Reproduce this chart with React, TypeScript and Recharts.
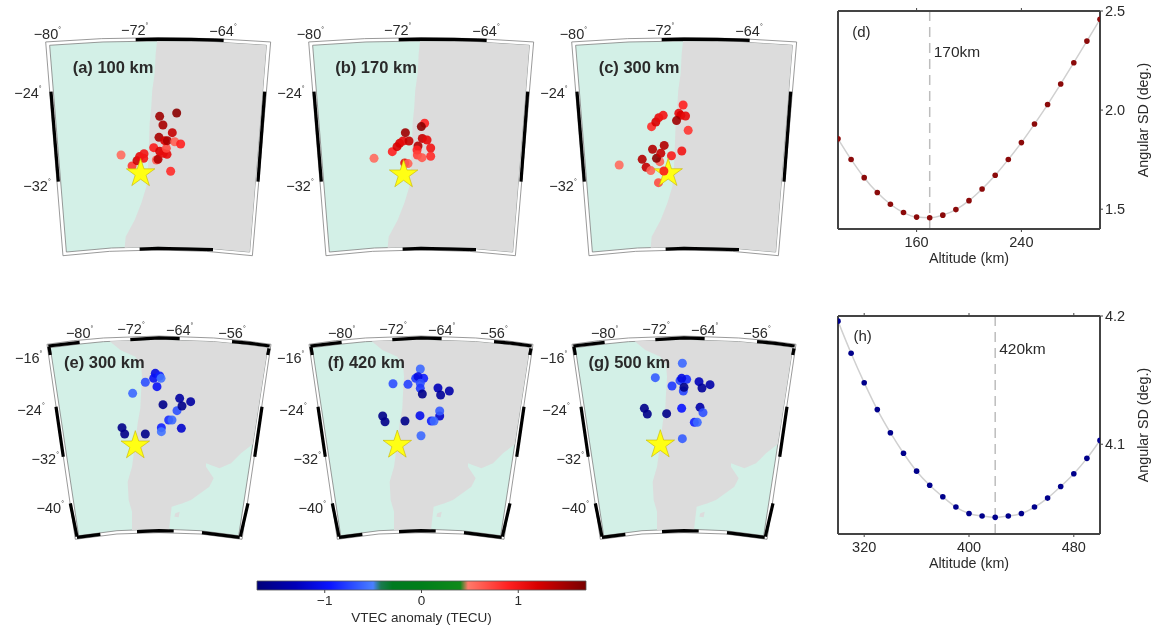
import {
  ComposedChart,
  Line,
  ReferenceDot,
  ReferenceLine,
  Scatter,
  ScatterChart,
  XAxis,
  YAxis,
} from "recharts";

const FONT = "'Liberation Sans', Arial, sans-serif";
const INK = "#2a2a2a";

type Pt = [number, number];
type Dot = [number, number, number];

// --- colour scale (VTEC anomaly, TECU)
const scaleValues = [-1.7, -1.3, -0.95, -0.5, -0.42, -0.3, 0, 0.4, 0.48, 0.9, 1.2, 1.7];
const scaleColors = [
  "#00007a", "#0000b8", "#0a14ff", "#4a80ff", "#1a7a50", "#007a20",
  "#007f1a", "#0f8a1a", "#ff7a6a", "#ff2020", "#d80000", "#780000",
];

function vtecColor(v: number) {
  const hex = (c: string) => [1, 3, 5].map((i) => parseInt(c.slice(i, i + 2), 16));
  for (let i = 1; i < scaleValues.length; i++) {
    if (v <= scaleValues[i]) {
      const t = (v - scaleValues[i - 1]) / (scaleValues[i] - scaleValues[i - 1]);
      const a = hex(scaleColors[i - 1]);
      const b = hex(scaleColors[i]);
      return `rgb(${a.map((n, k) => Math.round(n + (b[k] - n) * t)).join(",")})`;
    }
  }
  return scaleColors[scaleColors.length - 1];
}

// --- station pierce points: lon, lat, anomaly
const dotsA: Dot[] = [
  [-73.36, -29.67, 0.55], [-72.36, -30.63, 0.8], [-71.91, -30.16, 1.25], [-71.67, -29.81, 1.1],
  [-71.3, -29.96, 1.0], [-71.27, -29.55, 1.0], [-70.39, -29.03, 0.95], [-70.15, -30.1, 0.6],
  [-70.0, -30.05, 1.4], [-69.85, -29.35, 1.2], [-69.52, -29.52, 1.1], [-69.18, -29.61, 1.1],
  [-69.24, -29.09, 0.7], [-69.91, -28.13, 1.45], [-69.39, -28.42, 1.2], [-69.15, -28.42, 1.45],
  [-68.7, -27.72, 1.3], [-69.55, -27.05, 1.45], [-69.85, -26.3, 1.5], [-68.3, -26.01, 1.6],
  [-68.48, -28.51, 0.6], [-67.94, -28.71, 0.9], [-68.85, -31.09, 0.85],
];
const dotsB: Dot[] = [
  [-74.27, -29.96, 0.55], [-72.61, -29.38, 0.9], [-72.18, -28.94, 1.2], [-71.94, -28.65, 1.2],
  [-71.42, -27.72, 1.5], [-71.64, -28.45, 1.1], [-71.09, -28.45, 1.3], [-70.27, -28.88, 1.4],
  [-69.67, -26.9, 0.9], [-69.97, -27.19, 1.6], [-69.88, -28.22, 1.3], [-69.45, -28.36, 1.1],
  [-69.12, -29.06, 1.0], [-70.36, -29.23, 0.9], [-70.33, -29.67, 0.75], [-69.91, -29.9, 0.65],
  [-69.12, -29.78, 0.85], [-71.48, -30.37, 1.1], [-71.18, -30.42, 0.6],
];
const dotsC: Dot[] = [
  [-75.89, -30.54, 0.55], [-73.8, -30.05, 1.4], [-73.44, -30.74, 1.3], [-73.02, -31.03, 0.6],
  [-72.86, -29.17, 1.4], [-72.2, -30.25, 0.6], [-72.5, -29.96, 1.6], [-72.11, -29.52, 1.3],
  [-71.8, -28.83, 1.4], [-71.14, -29.73, 0.95], [-70.2, -29.32, 1.0], [-72.32, -32.08, 0.7],
  [-72.95, -27.2, 0.85], [-72.56, -26.79, 1.2], [-72.29, -26.41, 1.1], [-71.89, -26.21, 1.0],
  [-70.47, -26.03, 1.1], [-70.29, -26.21, 1.2], [-70.68, -26.67, 1.5], [-69.86, -26.27, 1.1],
  [-70.08, -25.31, 0.9], [-69.62, -27.52, 0.8],
];
const dotsCOverStar: Dot[] = [[-71.83, -31.06, 0.95]];
const dotsE: Dot[] = [
  [-71.56, -21.63, -0.6], [-69.56, -19.89, -0.7], [-67.98, -18.47, -1.1], [-68.24, -19.26, -1.0],
  [-67.29, -18.89, -0.9], [-67.08, -19.26, -0.55], [-67.72, -20.58, -1.0], [-66.77, -23.42, -1.6],
  [-64.14, -22.42, -1.45], [-62.4, -22.95, -1.45], [-64.56, -24.37, -0.7], [-63.77, -23.63, -1.6],
  [-65.87, -25.84, -0.85], [-65.35, -25.84, -0.6], [-67.03, -27.05, -0.9], [-67.03, -27.68, -0.55],
  [-63.87, -27.16, -1.2], [-73.24, -27.05, -1.6], [-72.82, -28.05, -1.6], [-69.56, -28.05, -1.6],
];
const dotsF: Dot[] = [
  [-71.82, -20.11, -0.7], [-69.45, -20.21, -0.75], [-67.51, -17.79, -0.6], [-68.24, -19.26, -0.8],
  [-66.98, -19.26, -0.9], [-67.87, -19.0, -1.1], [-67.51, -20.05, -0.7], [-67.51, -20.84, -0.8],
  [-67.19, -21.74, -1.6], [-64.72, -20.79, -1.3], [-64.3, -21.89, -1.5], [-62.93, -21.26, -1.4],
  [-64.45, -25.21, -1.2], [-64.45, -24.42, -0.65], [-65.77, -26.0, -0.9], [-65.35, -26.0, -0.6],
  [-67.56, -25.16, -1.05], [-73.45, -25.21, -1.6], [-73.08, -26.11, -1.6], [-69.93, -26.0, -1.6],
  [-67.4, -28.32, -0.6],
];
const dotsG: Dot[] = [
  [-67.66, -16.89, -0.6], [-71.93, -19.16, -0.65], [-69.29, -20.47, -0.8], [-68.03, -19.63, -0.75],
  [-66.98, -19.42, -0.85], [-67.77, -19.26, -1.1], [-67.51, -21.26, -0.75], [-67.4, -20.68, -1.6],
  [-65.03, -19.79, -1.3], [-64.56, -20.79, -1.5], [-63.29, -20.26, -1.4], [-64.87, -23.84, -1.4],
  [-64.4, -24.68, -0.7], [-65.77, -26.21, -0.9], [-65.3, -26.21, -0.6], [-67.77, -24.0, -0.95],
  [-73.66, -24.0, -1.6], [-73.19, -24.89, -1.6], [-70.14, -24.84, -1.6], [-67.66, -28.79, -0.65],
];

// --- map outlines on the plane of each row, in degrees
const topOuter: Pt[] = [
  [-80.21, -19.81], [-75.12, -19.52], [-70, -19.44], [-64.88, -19.52], [-59.76, -19.81],
  [-61.42, -38.45], [-65.61, -38.07], [-70, -37.95], [-74.39, -38.07], [-78.64, -38.45], [-80.21, -19.81],
];
const topInner: Pt[] = [
  [-79.85, -20.1], [-75, -19.81], [-70, -19.73], [-65, -19.81], [-60.15, -20.1],
  [-61.67, -38.13], [-65.76, -37.78], [-70, -37.66], [-74.24, -37.78], [-78.33, -38.13], [-79.85, -20.1],
];
const topLand: Pt[] = [
  [-70.09, -19.74], [-70.21, -20.8], [-70.3, -22.55], [-70.52, -24], [-70.61, -25.45], [-70.76, -26.91],
  [-70.82, -28.65], [-70.91, -30.69], [-71.06, -32.43], [-71.52, -33.88], [-72.12, -35.34], [-72.94, -36.79],
  [-73.03, -37.75], [-70, -37.66], [-65.76, -37.78], [-61.67, -38.13], [-60.15, -20.1], [-65, -19.81],
];
const topTicksBlack: Pt[][] = [
  [[-72.03, -19.61], [-70, -19.56], [-67, -19.58], [-64.03, -19.68]],
  [[-71.67, -37.87], [-70, -37.81], [-65, -37.92]],
  [[-79.73, -24.15], [-79.06, -31.99]],
  [[-60.3, -24.15], [-60.91, -31.99]],
];
const topLabels = [
  { x: -80.06, y: -19.12, text: "−80" },
  { x: -72.12, y: -18.77, text: "−72" },
  { x: -64.09, y: -18.83, text: "−64" },
  { x: -81.82, y: -24.29, text: "−24" },
  { x: -81.0, y: -32.37, text: "−32" },
];
const bottomOuter: Pt[] = [
  [-85.08, -13.89], [-80.87, -13.32], [-76.14, -12.89], [-67.4, -12.58], [-58.77, -12.89], [-54.03, -13.32],
  [-49.72, -13.89], [-54.29, -44.68], [-60.87, -43.84], [-67.4, -43.63], [-74.03, -43.84], [-80.61, -44.68],
  [-85.08, -13.89],
];
const bottomInner: Pt[] = [
  [-84.56, -14.42], [-80.35, -13.89], [-76.14, -13.47], [-67.4, -13.16], [-58.77, -13.47], [-54.56, -13.89],
  [-50.24, -14.42], [-54.82, -44.11], [-60.87, -43.32], [-67.4, -43.05], [-74.03, -43.32], [-80.08, -44.11],
  [-84.56, -14.42],
];
const bottomLand: Pt[] = [
  [-75.19, -13.42], [-73.51, -14.79], [-71.14, -15.84], [-70.24, -17.16], [-70.08, -19], [-70.24, -21.63],
  [-70.35, -24], [-70.77, -26.37], [-71.14, -29.26], [-71.66, -33.21], [-72.35, -35.58], [-72.19, -38.47],
  [-71.66, -40.32], [-71.66, -43.2], [-67.4, -43.05], [-65.77, -43.21], [-65.77, -42.68], [-65.4, -39.53],
  [-63.66, -39], [-62.35, -38.47], [-59.45, -36.37], [-58.77, -35.05], [-59.98, -33.21], [-59.98, -32.68],
  [-57.87, -33.47], [-56.03, -32.68], [-54.45, -31.11], [-52.61, -29.68], [-50.24, -14.42], [-54.56, -13.89],
  [-58.77, -13.47], [-67.4, -13.16],
];
const bottomIsland: Pt[] = [[-64.82, -40.58], [-64.14, -40.32], [-64.3, -41.21], [-64.98, -41.11]];
const bottomTicksBlack: Pt[][] = [
  [[-84.87, -14.16], [-79.93, -13.58]],
  [[-71.93, -13.16], [-67.4, -12.89], [-64.14, -13.0]],
  [[-55.87, -13.47], [-52.98, -13.74], [-49.93, -14.16]],
  [[-84.77, -14.26], [-84.56, -15.58]],
  [[-83.66, -23.74], [-82.51, -31.63]],
  [[-81.4, -39], [-80.35, -44.26]],
  [[-50.03, -14.53], [-50.24, -15.58]],
  [[-51.14, -23.74], [-52.29, -31.63]],
  [[-53.35, -39], [-54.56, -44.26]],
  [[-80.35, -44.37], [-76.66, -43.89]],
  [[-70.87, -43.47], [-67.4, -43.32], [-65.08, -43.37]],
  [[-60.61, -43.63], [-54.66, -44.37]],
];
const bottomLabels = [
  { x: -79.93, y: -12.05, text: "−80" },
  { x: -71.82, y: -11.53, text: "−72" },
  { x: -64.14, y: -11.63, text: "−64" },
  { x: -55.87, y: -12.16, text: "−56" },
  { x: -87.98, y: -16.0, text: "−16" },
  { x: -87.61, y: -24.26, text: "−24" },
  { x: -85.35, y: -32.05, text: "−32" },
  { x: -84.56, y: -39.79, text: "−40" },
];

// --- altitude scans
const altitudeD = [100, 110, 120, 130, 140, 150, 160, 170, 180, 190, 200, 210, 220, 230, 240, 250, 260, 270, 280, 290, 300];
const sdD = [1.855, 1.751, 1.659, 1.584, 1.525, 1.483, 1.46, 1.457, 1.47, 1.498, 1.543, 1.602, 1.671, 1.751, 1.836, 1.93, 2.028, 2.132, 2.239, 2.348, 2.458];
const altitudeH = [300, 310, 320, 330, 340, 350, 360, 370, 380, 390, 400, 410, 420, 430, 440, 450, 460, 470, 480, 490, 500];
const sdH = [4.196, 4.171, 4.148, 4.127, 4.109, 4.093, 4.079, 4.068, 4.059, 4.051, 4.046, 4.044, 4.043, 4.044, 4.046, 4.051, 4.058, 4.067, 4.077, 4.089, 4.103];

const toRows = (pts: Pt[]) => pts.map(([x, y]) => ({ x, y }));
const toDots = (pts: Dot[]) => pts.map(([x, y, v]) => ({ x, y, v }));
const none = () => <g />;

function DotShape(props: any) {
  return <circle cx={props.cx} cy={props.cy} r={4.5} fill={vtecColor(props.payload.v)} fillOpacity={0.9} />;
}

function StarShape(props: any) {
  const R = 15;
  const r = R * 0.382;
  const pts = Array.from({ length: 10 }, (_, i) => {
    const a = -Math.PI / 2 + (i * Math.PI) / 5;
    const d = i % 2 ? r : R;
    return `${props.cx + d * Math.cos(a)},${props.cy + d * Math.sin(a)}`;
  });
  return <polygon points={pts.join(" ")} fill="#ffff14" stroke="#c8b400" strokeWidth={0.6} />;
}

function TickLabel(props: any) {
  return (
    <text x={props.cx} y={props.cy} textAnchor="middle" dominantBaseline="central" fontFamily={FONT} fontSize={14.5} fill={INK}>
      {props.payload.text}
      <tspan dy={-5} fontSize={7}>°</tspan>
    </text>
  );
}

function TitleLabel(props: any) {
  return (
    <text x={props.cx} y={props.cy} textAnchor="middle" dominantBaseline="central" fontFamily={FONT} fontSize={16.5} fontWeight="bold" fill={INK}>
      {props.payload.text}
    </text>
  );
}

function Outline({ pts, fill, stroke, width }: { pts: Pt[]; fill?: string; stroke?: string; width?: number }) {
  return (
    <Scatter
      data={toRows(pts)}
      shape={none}
      isAnimationActive={false}
      line={{ fill: fill ?? "none", stroke: stroke ?? "none", strokeWidth: width ?? 1 }}
      lineJointType="linear"
    />
  );
}

interface MapProps {
  row: "top" | "bottom";
  center: number;
  title: string;
  dots: Dot[];
  star: Pt;
  over?: Dot[];
}

function MapPanel({ row, center, title, dots, star, over }: MapProps) {
  const isTop = row === "top";
  const titlePos = isTop ? { x: -74.09, y: -22.02 } : { x: -76.03, y: -16.63 };
  const blacks = isTop ? topTicksBlack : bottomTicksBlack;
  const outer = isTop ? topOuter : bottomOuter;
  const inner = isTop ? topInner : bottomInner;
  const land = isTop ? topLand : bottomLand;
  return (
    <div style={{ position: "absolute", left: center - 150, top: isTop ? 0 : 300, width: 300, height: isTop ? 270 : 260 }}>
      <ScatterChart width={300} height={isTop ? 270 : 260} margin={{ top: 0, right: 0, bottom: 0, left: 0 }}>
        <XAxis type="number" dataKey="x" hide domain={isTop ? [-83.636, -56.364] : [-91.08, -43.72]} allowDataOverflow />
        <YAxis type="number" dataKey="y" hide domain={isTop ? [-39.698, -16.151] : [-47.947, -6.895]} allowDataOverflow />
        <Outline pts={outer} fill="#ffffff" stroke="#808080" width={0.8} />
        <Outline pts={inner} fill="#d3f0e7" stroke="#808080" width={0.8} />
        <Outline pts={land} fill="#dcdcdc" />
        {!isTop && <Outline pts={bottomIsland} fill="#dcdcdc" />}
        {blacks.map((seg, i) => (
          <Outline key={i} pts={seg} stroke="#000000" width={3.2} />
        ))}
        <Scatter data={isTop ? topLabels : bottomLabels} shape={TickLabel} isAnimationActive={false} />
        <Scatter data={[{ ...titlePos, text: title }]} shape={TitleLabel} isAnimationActive={false} />
        <Scatter data={toDots(dots)} shape={DotShape} isAnimationActive={false} />
        <Scatter data={toRows([star])} shape={StarShape} isAnimationActive={false} />
        {over && <Scatter data={toDots(over)} shape={DotShape} isAnimationActive={false} />}
      </ScatterChart>
    </div>
  );
}

interface ScanProps {
  top: number;
  altitude: number[];
  sd: number[];
  color: string;
  xDomain: [number, number];
  yDomain: [number, number];
  xTicks: number[];
  yTicks: number[];
  best: number;
  bestText: string;
  bestY: number;
  panel: string;
  panelAt: Pt;
}

function ScanPanel(p: ScanProps) {
  const data = p.altitude.map((a, i) => ({ a, sd: p.sd[i] }));
  const text = { fontFamily: FONT, fontSize: 14.5, fill: INK };
  const title = { fontFamily: FONT, fontSize: 14.3, fill: INK };
  const axis = { stroke: "#444444", strokeWidth: 2 };
  return (
    <div style={{ position: "absolute", left: 825, top: p.top, width: 326, height: 275 }}>
      <ComposedChart width={326} height={275} data={data} margin={{ top: 10, right: 0, bottom: 0, left: 12 }}>
        <XAxis
          dataKey="a" type="number" domain={p.xDomain} ticks={p.xTicks} allowDataOverflow height={46}
          axisLine={axis} tickLine={{ stroke: "#444444" }} tickSize={3} tickMargin={5} tick={text}
          label={{ value: "Altitude (km)", position: "insideBottom", offset: 12, ...title }}
        />
        <XAxis
          xAxisId="top" orientation="top" dataKey="a" type="number" domain={p.xDomain} ticks={p.xTicks} height={1}
          axisLine={axis} tickLine={{ stroke: "#444444" }} tickSize={3} tickFormatter={() => ""}
        />
        <YAxis
          orientation="right" type="number" domain={p.yDomain} ticks={p.yTicks} width={51} allowDataOverflow
          axisLine={axis} tickLine={{ stroke: "#444444" }} tickSize={3} tick={text}
          tickFormatter={(v: number) => v.toFixed(1)}
          label={{ value: "Angular SD (deg.)", angle: -90, position: "insideRight", offset: 8, style: { textAnchor: "middle" }, ...title }}
        />
        <YAxis
          yAxisId="left" orientation="left" type="number" domain={p.yDomain} ticks={p.yTicks} width={1}
          axisLine={axis} tickLine={{ stroke: "#444444" }} tickSize={3} tickFormatter={() => ""}
        />
        <ReferenceLine x={p.best} stroke="#bdbdbd" strokeWidth={1.5} strokeDasharray="10 6" />
        <Line
          dataKey="sd" type="monotone" stroke="#d0d0d0" strokeWidth={1.5} isAnimationActive={false}
          dot={{ r: 2.8, fill: p.color, stroke: p.color, strokeWidth: 0, fillOpacity: 1 }}
        />
        <ReferenceDot
          x={p.best} y={p.bestY} r={0} fill="none" stroke="none"
          label={{ value: p.bestText, position: "right", offset: 4, fontFamily: FONT, fontSize: 15.5, fill: INK }}
        />
        <ReferenceDot
          x={p.panelAt[0]} y={p.panelAt[1]} r={0} fill="none" stroke="none"
          label={{ value: p.panel, position: "center", fontFamily: FONT, fontSize: 15, fill: INK }}
        />
      </ComposedChart>
    </div>
  );
}

function ColorBar() {
  const lo = scaleValues[0];
  const hi = scaleValues[scaleValues.length - 1];
  const bar: Pt[] = [[lo, 0], [hi, 0], [hi, 1], [lo, 1], [lo, 0]];
  return (
    <div style={{ position: "absolute", left: 230, top: 570, width: 382, height: 60 }}>
      <ScatterChart width={382} height={60} margin={{ top: 11, right: 26, bottom: 0, left: 27 }}>
        <defs>
          <linearGradient id="vtec" x1="0" x2="1" y1="0" y2="0">
            {scaleValues.map((v, i) => (
              <stop key={v} offset={(v - lo) / (hi - lo)} stopColor={scaleColors[i]} />
            ))}
          </linearGradient>
        </defs>
        <XAxis
          type="number" dataKey="x" domain={[lo, hi]} ticks={[-1, 0, 1]} height={40}
          axisLine={false} tickLine={{ stroke: "#444444" }} tickSize={3}
          tick={{ fontFamily: FONT, fontSize: 13.5, fill: INK }}
          tickFormatter={(v: number) => (v < 0 ? `−${-v}` : `${v}`)}
          label={{ value: "VTEC anomaly (TECU)", position: "insideBottom", offset: 8, fontFamily: FONT, fontSize: 13.5, fill: INK }}
        />
        <YAxis type="number" dataKey="y" hide domain={[0, 1]} />
        <Outline pts={bar} fill="url(#vtec)" stroke="#555555" width={0.8} />
      </ScatterChart>
    </div>
  );
}

export default function App() {
  return (
    <>
      <style>{"html,body{margin:0;padding:0;background:#ffffff}"}</style>
      <div style={{ position: "relative", width: 1151, height: 630, overflow: "hidden", filter: "blur(0.45px)" }}>
        <MapPanel row="top" center={158.3} title="(a) 100 km" dots={dotsA} star={[-71.58, -31.28]} />
        <MapPanel row="top" center={421.3} title="(b) 170 km" dots={dotsB} star={[-71.58, -31.38]} />
        <MapPanel row="top" center={684.2} title="(c) 300 km" dots={dotsC} star={[-71.44, -31.27]} over={dotsCOverStar} />
        <MapPanel row="bottom" center={158.7} title="(e) 300 km" dots={dotsE} star={[-71.14, -29.89]} />
        <MapPanel row="bottom" center={421.3} title="(f) 420 km" dots={dotsF} star={[-71.14, -29.79]} />
        <MapPanel row="bottom" center={684} title="(g) 500 km" dots={dotsG} star={[-71.14, -29.74]} />
        <ScanPanel
          top={0} altitude={altitudeD} sd={sdD} color="#8b0a0a" xDomain={[100, 300]} yDomain={[1.4, 2.5]}
          xTicks={[160, 240]} yTicks={[1.5, 2.0, 2.5]} best={170} bestText="170km" bestY={2.294}
          panel="(d)" panelAt={[117.8, 2.395]}
        />
        <ScanPanel
          top={305} altitude={altitudeH} sd={sdH} color="#00008b" xDomain={[300, 500]} yDomain={[4.03, 4.2]}
          xTicks={[320, 400, 480]} yTicks={[4.1, 4.2]} best={420} bestText="420km" bestY={4.1745}
          panel="(h)" panelAt={[318.8, 4.185]}
        />
        <ColorBar />
      </div>
    </>
  );
}
